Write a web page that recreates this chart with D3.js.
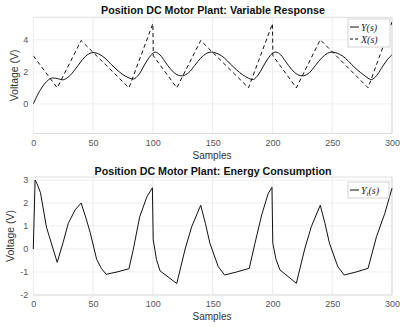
<!DOCTYPE html>
<html>
<head>
<meta charset="utf-8">
<script src="https://cdn.jsdelivr.net/npm/d3@7"></script>
<style>
  body { margin: 0; background: #fff; }
  svg text { font-family: "Liberation Sans", Arial, sans-serif; }
</style>
</head>
<body>
<svg id="chart" width="400" height="327"></svg>
<script>
// ---- data ----
const sampleTicks = [0, 50, 100, 150, 200, 250, 300];
const respTicks   = [0, 2, 4];
const energyTicks = [-2, -1, 0, 1, 2, 3];

// X(s): dashed reference input (sample, volts)
const xRefSamples = [0, 20, 40, 80, 100, 100.4, 120, 140, 180, 200, 200.4, 220, 240, 280, 300];
const xRefVolts   = [3.0, 1.0, 3.95, 1.0, 5.0, 3.0, 1.0, 3.95, 1.0, 5.0, 3.0, 1.0, 4.0, 1.0, 5.1];

// Y(s): solid plant response
const ySamples = [0, 5, 10, 15, 20, 25, 30, 35, 40, 45, 50, 55, 60, 65, 70, 75, 80, 84, 88, 92, 96, 100, 102,
  106, 110, 115, 120, 125, 130, 135, 140, 145, 149, 155, 160, 165, 170, 175, 180, 184, 188, 192, 196, 200, 203,
  207, 211, 216, 221, 226, 231, 236, 241, 246, 250, 256, 261, 266, 271, 276, 280, 283, 287, 291, 296, 300];
const yVolts = [0, 0.75, 1.3, 1.6, 1.58, 1.5, 1.72, 2.15, 2.65, 3.05, 3.2, 3.1, 2.85, 2.47, 2.12, 1.82, 1.62, 1.55, 1.8, 2.3, 2.8, 3.15, 3.23,
  3.05, 2.65, 2.15, 1.83, 1.75, 1.95, 2.4, 2.85, 3.15, 3.23, 3.1, 2.85, 2.47, 2.12, 1.82, 1.6, 1.52, 1.8, 2.3, 2.8, 3.15, 3.23,
  3.05, 2.65, 2.15, 1.83, 1.75, 1.95, 2.4, 2.85, 3.15, 3.23, 3.1, 2.85, 2.47, 2.12, 1.82, 1.6, 1.52, 1.75, 2.2, 2.75, 3.06];

// energy consumption trace
const eSamples = [0, 1.5, 3, 6, 11, 20, 25, 29.3, 35, 40, 44, 47.5, 53, 57, 61, 70, 80, 83.5, 89, 95, 99.6,
  100.3, 103, 106, 120, 127, 132.5, 140, 144, 147.7, 154.7, 160, 170, 180.6, 185.4, 191, 196.5, 199.6,
  200.3, 203, 206.3, 220, 227, 232.5, 240, 244, 247.7, 254.7, 260, 270, 280, 287, 294, 300];
const eVolts = [0, 3.0, 2.85, 2.45, 0.95, -0.58, 0.3, 1.12, 1.7, 2.0, 1.35, 0.73, -0.45, -0.85, -1.1, -1.0, -0.86, -0.05, 1.4, 2.27, 2.66,
  0.4, -0.45, -0.95, -1.5, 0.0, 0.97, 1.9, 1.1, 0.25, -0.77, -1.13, -1.0, -0.84, 0.25, 1.48, 2.42, 2.68,
  0.25, -0.45, -0.91, -1.49, 0.0, 0.97, 1.9, 1.1, 0.25, -0.77, -1.13, -1.0, -0.84, 0.53, 1.55, 2.64];

const svg = d3.select('#chart');
svg.append('rect').attr('width', 400).attr('height', 327).attr('fill', '#fff');

function drawPanel(opt) {
  const { top, bottom, yDomain, yTicks, title, titleY, labelX } = opt;
  const x = d3.scaleLinear().domain([0, 300]).range([33.3, 392]);
  const y = d3.scaleLinear().domain(yDomain).range([bottom, top]);
  const g = svg.append('g');

  // grid
  g.append('g').selectAll('line').data(sampleTicks).join('line')
    .attr('x1', d => x(d)).attr('x2', d => x(d)).attr('y1', top).attr('y2', bottom)
    .attr('stroke', '#e6e6e6').attr('stroke-width', 0.8);
  g.append('g').selectAll('line').data(yTicks).join('line')
    .attr('x1', x(0)).attr('x2', x(300)).attr('y1', d => y(d)).attr('y2', d => y(d))
    .attr('stroke', '#ececec').attr('stroke-width', 0.8);

  // box edges (left spine is not visible in the reference)
  g.append('path')
    .attr('d', `M${x(0)},${top}H${x(300)}V${bottom}H${x(0)}`)
    .attr('fill', 'none').attr('stroke', '#d6d6d6').attr('stroke-width', 0.8);

  // axes
  const xAxis = g.append('g').attr('transform', `translate(0,${bottom})`)
    .call(d3.axisBottom(x).tickValues(sampleTicks).tickFormat(d3.format('d')).tickSize(0).tickPadding(6));
  const yAxis = g.append('g').attr('transform', `translate(${x(0)},0)`)
    .call(d3.axisLeft(y).tickValues(yTicks).tickFormat(d => d < 0 ? '-' + Math.abs(d) : d).tickSize(0).tickPadding(5));
  [xAxis, yAxis].forEach(a => {
    a.select('.domain').remove();
    a.selectAll('text').attr('fill', '#555').style('font-size', '9px')
      .style('font-family', '"Liberation Sans", Arial, sans-serif');
  });

  g.append('text')
    .attr('x', 213).attr('y', titleY).attr('text-anchor', 'middle')
    .style('font-size', '10.7px').style('font-weight', 'bold').attr('fill', '#111')
    .text(title);

  g.append('text')
    .attr('x', 212).attr('y', bottom + 25).attr('text-anchor', 'middle')
    .style('font-size', '10px').attr('fill', '#333')
    .text('Samples');

  g.append('text')
    .attr('transform', `translate(${labelX},${(top + bottom) / 2}) rotate(-90)`)
    .attr('text-anchor', 'middle')
    .style('font-size', '10.5px').attr('fill', '#333')
    .text('Voltage (V)');

  return { g, x, y };
}

function legend(g, lx, ly, w, entries) {
  const h = entries.length * 12 + 4;
  g.append('rect').attr('x', lx).attr('y', ly).attr('width', w).attr('height', h)
    .attr('fill', '#fff').attr('stroke', '#c8c8c8').attr('stroke-width', 0.8);
  entries.forEach((e, i) => {
    const cy = ly + 8 + i * 12;
    g.append('line').attr('x1', lx + 2).attr('x2', lx + 11).attr('y1', cy).attr('y2', cy)
      .attr('stroke', '#111').attr('stroke-width', 1)
      .attr('stroke-dasharray', e.dash ? '3,2' : null);
    const t = g.append('text').attr('x', lx + 13).attr('y', cy + 3.5)
      .style('font-family', '"Liberation Serif", "DejaVu Serif", serif')
      .style('font-style', 'italic').style('font-size', '10px').attr('fill', '#222');
    t.append('tspan').text(e.name);
    if (e.sub) t.append('tspan').attr('dy', 2).style('font-size', '7px').text(e.sub);
    t.append('tspan').attr('dy', e.sub ? -2 : 0).text('(s)');
  });
}

// ---- top panel: variable response ----
const p1 = drawPanel({
  top: 17.3, bottom: 133.5, yDomain: [-1.85, 5.4], yTicks: respTicks,
  title: 'Position DC Motor Plant: Variable Response', titleY: 14, labelX: 18
});
svg.append('clipPath').attr('id', 'c1').append('rect')
  .attr('x', 33.3).attr('y', 17.3).attr('width', 358.7).attr('height', 116.2);

const xRef = xRefSamples.map((s, i) => [s, xRefVolts[i]]);
const yResp = ySamples.map((s, i) => [s, yVolts[i]]);

p1.g.append('path').datum(xRef)
  .attr('clip-path', 'url(#c1)')
  .attr('d', d3.line().x(d => p1.x(d[0])).y(d => p1.y(d[1])))
  .attr('fill', 'none').attr('stroke', '#111').attr('stroke-width', 1)
  .attr('stroke-dasharray', '4,3');
p1.g.append('path').datum(yResp)
  .attr('d', d3.line().curve(d3.curveCatmullRom).x(d => p1.x(d[0])).y(d => p1.y(d[1])))
  .attr('fill', 'none').attr('stroke', '#111').attr('stroke-width', 1);

legend(p1.g, 348, 19, 42, [{ name: 'Y' }, { name: 'X', dash: true }]);

// ---- bottom panel: energy consumption ----
const p2 = drawPanel({
  top: 177, bottom: 295, yDomain: [-2, 3.13], yTicks: energyTicks,
  title: 'Position DC Motor Plant: Energy Consumption', titleY: 175, labelX: 14
});
const energy = eSamples.map((s, i) => [s, eVolts[i]]);
p2.g.append('path').datum(energy)
  .attr('d', d3.line().x(d => p2.x(d[0])).y(d => p2.y(d[1])))
  .attr('fill', 'none').attr('stroke', '#111').attr('stroke-width', 1);

legend(p2.g, 348, 182, 41, [{ name: 'Y', sub: 't' }]);
</script>
</body>
</html>
